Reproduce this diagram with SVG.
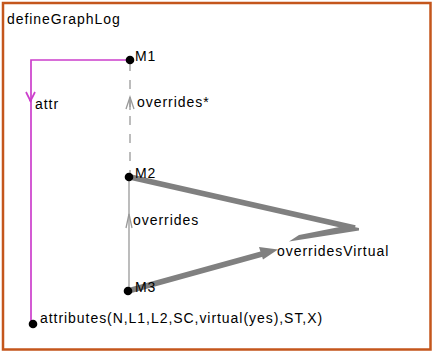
<svg xmlns="http://www.w3.org/2000/svg" width="433" height="352" viewBox="0 0 433 352">
<style>
  text { font-family: "Liberation Sans", Arial, sans-serif; font-size: 14px; letter-spacing: 0.95px; fill: #000; }
  .dot { fill: #000; }
  .attr { stroke: #cc3fcc; stroke-width: 1.7; fill: none; }
  .ovr { stroke: #999; stroke-width: 1.3; fill: none; }
  .thick { stroke: #808080; stroke-width: 5.5; fill: none; stroke-linecap: butt; }
</style>
<rect x="0" y="0" width="433" height="352" fill="#fff"/>
<g id="frame">
  <rect x="3" y="3" width="427.5" height="346.5" fill="none" stroke="#c4561c" stroke-width="2.5"/>
  <text x="7" y="24">defineGraphLog</text>
</g>
<g id="connectors">
  <!-- attr: M1 -> attributes -->
  <polyline class="attr" points="130,60 31,60 31,323"/>
  <polyline class="attr" points="26,92 30.5,101 35,92"/>
  <circle cx="30.5" cy="100" r="1.5" fill="#cc3fcc"/>
  <text x="35" y="109">attr</text>
  <!-- overrides*: M2 -> M1 dashed -->
  <line class="ovr" x1="130" y1="62" x2="130" y2="177" stroke-dasharray="9,9"/>
  <polyline class="ovr" points="126,109 130,97 134,109"/>
  <line class="ovr" x1="130" y1="97" x2="130" y2="110"/>
  <text x="137" y="107">overrides*</text>
  <!-- overrides: M3 -> M2 -->
  <line class="ovr" x1="129" y1="177" x2="129" y2="291"/>
  <polyline class="ovr" points="126,228 129,214 132,228"/>
  <text x="133" y="225">overrides</text>
  <!-- overridesVirtual -->
  <polyline class="thick" points="130,177 355,228"/>
  <polygon points="359,228 347,225.5 299,235 289,241.5 359,230.5" fill="#808080"/>
  <line class="thick" x1="128" y1="291" x2="262" y2="254"/>
  <polygon points="278,249.5 259,247 263,259.5" fill="#808080"/>
  <text x="277" y="256">overridesVirtual</text>
</g>
<g id="M1">
  <circle class="dot" cx="130" cy="60" r="4.3"/>
  <text x="135" y="61">M1</text>
</g>
<g id="M2">
  <circle class="dot" cx="129" cy="177" r="4.3"/>
  <text x="135" y="178">M2</text>
</g>
<g id="M3">
  <circle class="dot" cx="128" cy="291" r="4.3"/>
  <text x="135" y="292">M3</text>
</g>
<g id="attributes">
  <circle class="dot" cx="33" cy="324" r="4.3"/>
  <text x="40" y="323">attributes(N,L1,L2,SC,virtual(yes),ST,X)</text>
</g>
</svg>
